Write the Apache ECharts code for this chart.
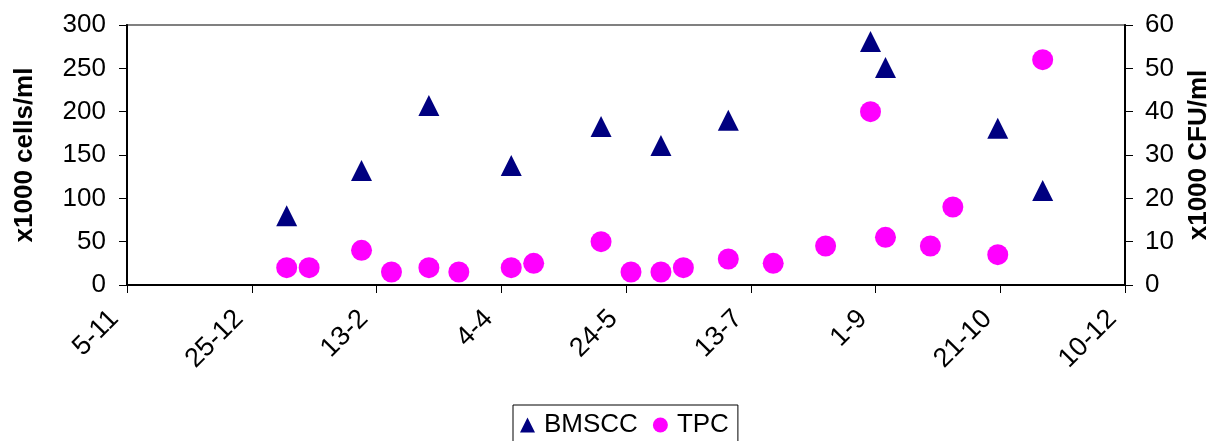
<!DOCTYPE html>
<html>
<head>
<meta charset="utf-8">
<script src="https://cdn.jsdelivr.net/npm/echarts@6/dist/echarts.min.js"></script>
<style>
html,body{margin:0;padding:0;background:#fff;}
#chart{width:1218px;height:441px;}
</style>
</head>
<body>
<div id="chart"></div>
<script>
// x values are days counted from 5-11
var xTickLabels = ['5-11','25-12','13-2','4-4','24-5','13-7','1-9','21-10','10-12'];
var bmsccDays = [64, 94, 121, 154, 190, 214, 241, 298, 304, 349, 367];
var bmsccValues = [80, 132, 207, 138, 183, 161, 190, 281, 251, 181, 109];
var tpcDays = [64, 73, 94, 106, 121, 133, 154, 163, 190, 202, 214, 223, 241, 259, 280, 298, 304, 322, 331, 349, 367];
var tpcValues = [4, 4, 8, 3, 4, 3, 4, 5, 10, 3, 3, 4, 6, 5, 9, 40, 11, 9, 18, 7, 52];
var leftTicks = [0, 300, 50];
var rightTicks = [0, 60, 10];

function pairs(xs, ys){ return xs.map(function(x,i){ return [x, ys[i]]; }); }

var FONT = '"Liberation Sans", Arial, sans-serif';
var chart = echarts.init(document.getElementById('chart'));
chart.setOption({
  animation: false,
  textStyle: {fontFamily: FONT, color: '#000'},
  grid: {left: 127, right: 93, top: 25, bottom: 156, show: true, borderColor: '#808080', borderWidth: 2,
         containLabel: false, outerBoundsMode: 'none'},
  legend: {
    left: 513, top: 405,
    padding: [7, 9, 12, 7],
    borderColor: '#000', borderWidth: 1,
    itemWidth: 15, itemHeight: 15, itemGap: 15,
    textStyle: {fontSize: 26, fontFamily: FONT, color: '#000', padding: [0, 0, 0, 4]},
    data: [{name: 'BMSCC', icon: 'triangle'}, {name: 'TPC', icon: 'circle'}]
  },
  xAxis: {
    type: 'value', min: 0, max: 400, interval: 50,
    axisLine: {show: true, onZero: false, lineStyle: {color: '#000', width: 2}},
    axisTick: {show: true, length: 8, lineStyle: {color: '#000', width: 1}},
    splitLine: {show: false},
    axisLabel: {
      rotate: 45, margin: 17, fontSize: 27, color: '#000', fontFamily: FONT,
      padding: [0, 18, 0, 0],
      formatter: function(v){ return xTickLabels[Math.round(v/50)]; }
    }
  },
  yAxis: [{
    type: 'value', position: 'left', min: leftTicks[0], max: leftTicks[1], interval: leftTicks[2],
    name: 'x1000 cells/ml', nameLocation: 'middle', nameRotate: 90, nameGap: 89,
    nameTextStyle: {fontSize: 26, fontWeight: 'bold', fontFamily: FONT, color: '#000'},
    axisLine: {show: true, lineStyle: {color: '#000', width: 2}},
    axisTick: {show: true, length: 8, lineStyle: {color: '#000', width: 1}},
    splitLine: {show: false},
    axisLabel: {margin: 21, fontSize: 26, color: '#000', fontFamily: FONT}
  }, {
    type: 'value', position: 'right', min: rightTicks[0], max: rightTicks[1], interval: rightTicks[2],
    name: 'x1000 CFU/ml', nameLocation: 'middle', nameRotate: 90, nameGap: 61,
    nameTextStyle: {fontSize: 26, fontWeight: 'bold', fontFamily: FONT, color: '#000'},
    axisLine: {show: true, lineStyle: {color: '#000', width: 2}},
    axisTick: {show: true, length: 8, lineStyle: {color: '#000', width: 1}},
    splitLine: {show: false},
    axisLabel: {margin: 20, fontSize: 26, color: '#000', fontFamily: FONT}
  }],
  series: [{
    name: 'BMSCC', type: 'scatter', yAxisIndex: 0,
    symbol: 'triangle', symbolSize: 21,
    itemStyle: {color: '#000080', opacity: 1},
    data: pairs(bmsccDays, bmsccValues)
  }, {
    name: 'TPC', type: 'scatter', yAxisIndex: 1,
    symbol: 'circle', symbolSize: 21,
    itemStyle: {color: '#FF00FF', opacity: 1},
    data: pairs(tpcDays, tpcValues)
  }]
});
</script>
</body>
</html>
